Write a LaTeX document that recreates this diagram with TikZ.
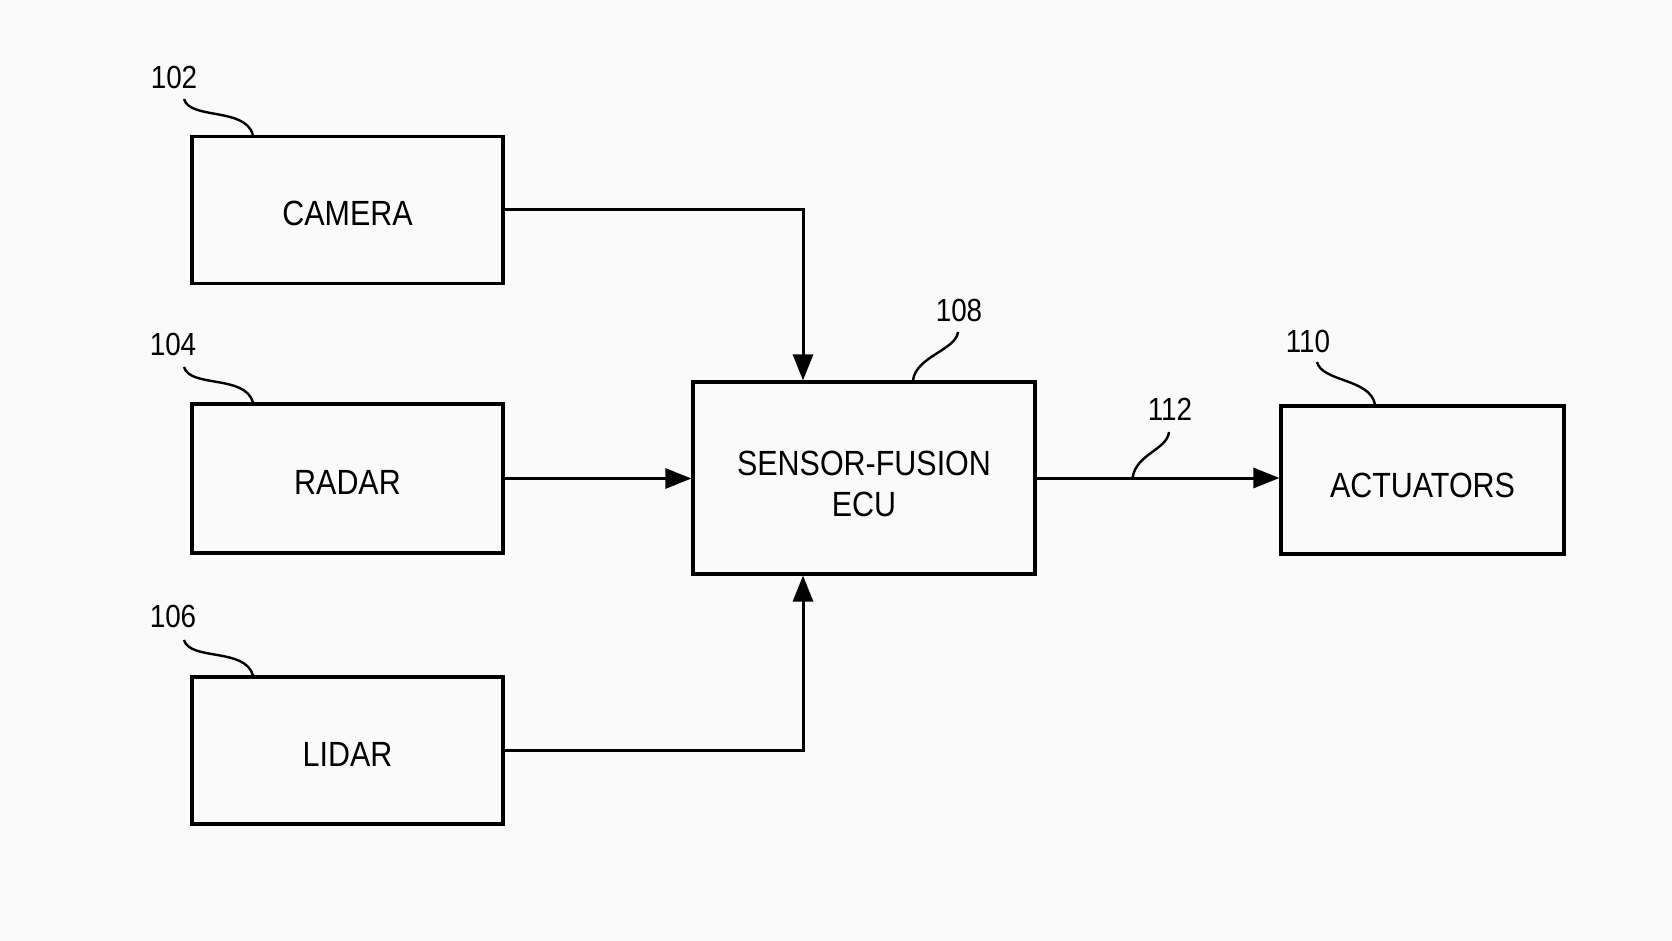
\documentclass[tikz,border=0pt]{standalone}
\usepackage{fontspec}
\setmainfont{Liberation Sans}[FakeStretch=0.87]
\usetikzlibrary{arrows.meta}
\definecolor{bg}{RGB}{250,250,250}
\begin{document}
\begin{tikzpicture}[x=1pt,y=-1pt,
  box/.style={draw=black, line width=3.2pt, inner sep=0pt},
  btext/.style={inner sep=0pt, align=center, font=\fontsize{35}{41}\selectfont},
  lbl/.style={inner sep=0pt, font=\fontsize{32}{36}\selectfont},
  arr/.style={line width=3pt, -{Triangle[length=26pt,width=20pt]}},
  lead/.style={line width=2.4pt},
]
\fill[bg] (0,0) rectangle (1672,941);
\useasboundingbox (0,0) rectangle (1672,941);

\node[box, minimum width=311pt, minimum height=147pt,
  label={[btext,yshift=-3pt]center:CAMERA}] (cam) at (347.5,210) {};
\node[box, minimum width=311pt, minimum height=149pt,
  label={[btext,yshift=-3.5pt]center:RADAR}] (radar) at (347.5,478.5) {};
\node[box, minimum width=311pt, minimum height=147pt,
  label={[btext,yshift=-4pt]center:LIDAR}] (lidar) at (347.5,750.5) {};
\node[box, minimum width=342pt, minimum height=192pt,
  label={[btext,yshift=-6pt]center:SENSOR-FUSION\\ECU}] (ecu) at (864,478) {};
\node[box, minimum width=283pt, minimum height=148pt,
  label={[btext,yshift=-5pt]center:ACTUATORS}] (act) at (1422.5,480) {};

\node[lbl] (l102) at (174,77) {102};
\node[lbl] (l104) at (173,344) {104};
\node[lbl] (l106) at (173,616) {106};
\node[lbl] (l108) at (959,310) {108};
\node[lbl] (l110) at (1308,341) {110};
\node[lbl] (l112) at (1170,409) {112};

\draw[arr] (cam.east) -| ([xshift=-61pt]ecu.north);
\draw[arr] (radar.east) -- (radar.east -| ecu.west);
\draw[arr] (lidar.east) -| ([xshift=-61pt]ecu.south);
\draw[arr] (ecu.east) -- (ecu.east -| act.west);

\coordinate (s102) at (184,99);
\coordinate (s104) at (184,367);
\coordinate (s106) at (184,640);
\coordinate (s108) at (958,332);
\coordinate (s110) at (1317,362);
\coordinate (s112) at (1169,432);

\draw[lead] (s102) .. controls +(6,21) and +(-8,-28) .. ([xshift=-94.5pt]cam.north);
\draw[lead] (s104) .. controls +(6,21) and +(-8,-28) .. ([xshift=-94.5pt]radar.north);
\draw[lead] (s106) .. controls +(6,21) and +(-8,-28) .. ([xshift=-94.5pt]lidar.north);
\draw[lead] (s108) .. controls +(-2,18) and +(3,-24) .. ([xshift=49pt]ecu.north);
\draw[lead] (s110) .. controls +(5,20) and +(-5,-26) .. ([xshift=-47.5pt]act.north);
\draw[lead] (s112) .. controls +(-2,18) and +(3,-24) .. ([xshift=96pt]ecu.east);
\end{tikzpicture}
\end{document}
